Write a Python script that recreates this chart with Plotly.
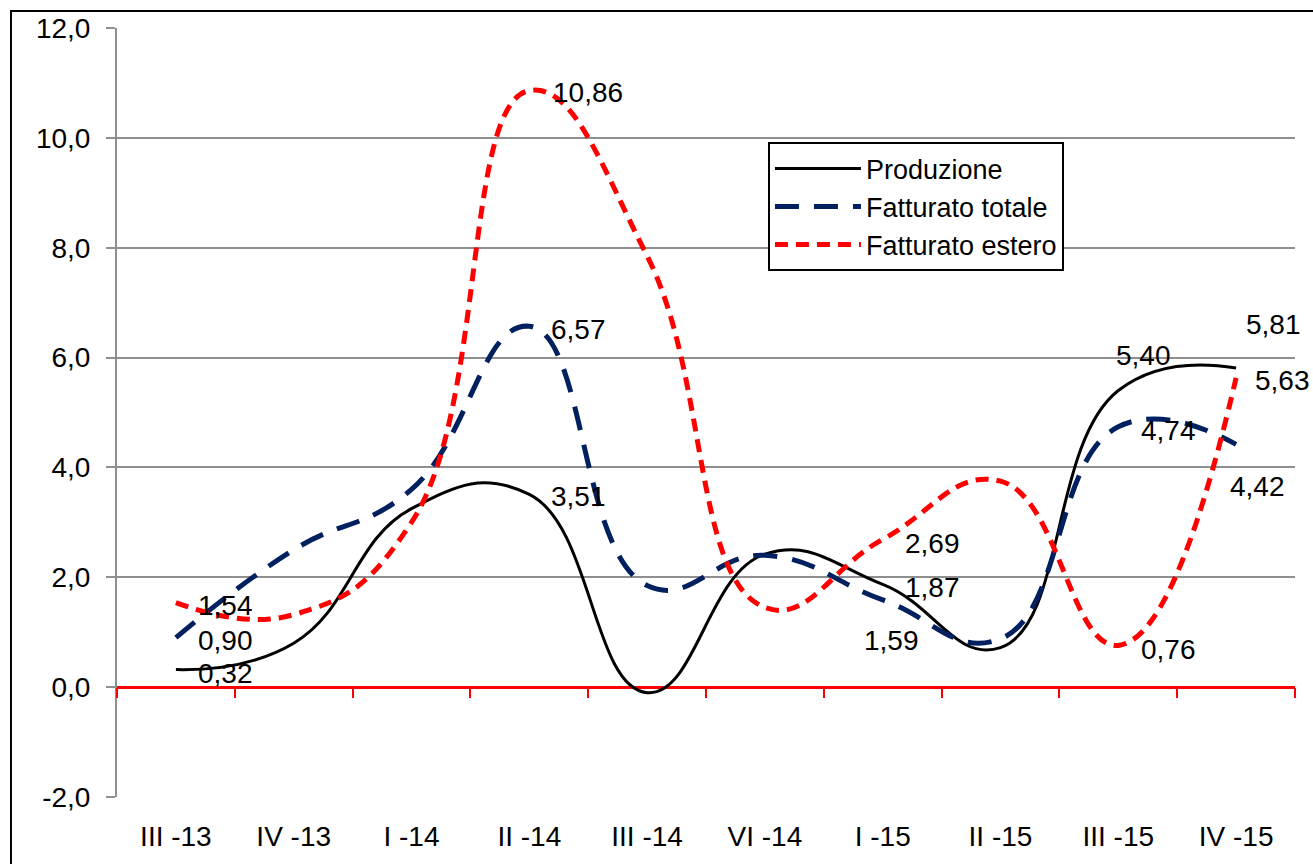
import plotly.graph_objects as go

categories = ["III -13", "IV -13", "I -14", "II -14", "III -14",
              "VI -14", "I -15", "II -15", "III -15", "IV -15"]

produzione = [0.32, 0.80, 3.25, 3.51, -0.10, 2.42, 1.87, 0.72, 5.40, 5.81]
fatturato_totale = [0.90, 2.50, 3.60, 6.57, 1.85, 2.40, 1.59, 0.88, 4.74, 4.42]
fatturato_estero = [1.54, 1.32, 3.00, 10.86, 7.85, 1.45, 2.69, 3.75, 0.76, 5.63]

series_names = ["Produzione", "Fatturato totale", "Fatturato estero"]
y_ticks = [-2, 0, 2, 4, 6, 8, 10, 12]
y_tick_text = [f"{v:.1f}".replace(".", ",") for v in y_ticks]

# indices of categories carrying data labels
label_idx = [0, 3, 6, 8, 9]

# label offsets (style): (xshift, yshift) in px, text anchored left/middle
label_offsets = {
    "Produzione": {0: (20, -4), 3: (20, -2), 6: (20, -3), 8: (-4, 35), 9: (8, 44)},
    "Fatturato totale": {0: (20, -3), 3: (20, -3), 6: (-21, -41), 8: (21, -4), 9: (-8, -42)},
    "Fatturato estero": {0: (20, -3), 3: (22, -2), 6: (20, -4), 8: (21, -4), 9: (17, -3)},
}

styles = {
    "Produzione": dict(color="#000000", width=3, dash="solid"),
    "Fatturato totale": dict(color="#002060", width=5, dash="24px,15px"),
    "Fatturato estero": dict(color="#ff0000", width=5, dash="13px,8px"),
}

data = {
    "Produzione": produzione,
    "Fatturato totale": fatturato_totale,
    "Fatturato estero": fatturato_estero,
}

FONT = "Liberation Sans, Arial, sans-serif"
FS = 28

fig = go.Figure()
for name in series_names:
    fig.add_trace(go.Scatter(
        x=categories, y=data[name], name=name, mode="lines",
        line=dict(shape="spline", smoothing=1.3, **styles[name]),
        hoverinfo="x+y+name",
    ))

# helper trace so the zero-line tick axis (x2) gets drawn
fig.add_trace(go.Scatter(x=[None], y=[None], xaxis="x2", yaxis="y",
                         showlegend=False, hoverinfo="skip"))

annotations = []
for name in series_names:
    vals = data[name]
    for i in label_idx:
        dx, dy = label_offsets[name][i]
        annotations.append(dict(
            x=categories[i], y=vals[i], xref="x", yref="y",
            text=f"{vals[i]:.2f}".replace(".", ","),
            showarrow=False, xanchor="left", yanchor="middle",
            xshift=dx, yshift=dy,
            font=dict(family=FONT, size=FS, color="#000000"),
        ))

n = len(categories)
fig.update_layout(
    width=1313, height=864,
    margin=dict(l=117, r=18, t=28, b=63),
    paper_bgcolor="white", plot_bgcolor="white",
    separators=", ",
    font=dict(family=FONT, size=FS, color="#000000"),
    showlegend=True,
    legend=dict(
        x=0.5526, y=0.8513, xanchor="left", yanchor="top",
        bgcolor="white", bordercolor="#000000", borderwidth=2,
        font=dict(family=FONT, size=27, color="#000000"),
        itemwidth=86,
        tracegroupgap=0,
    ),
    xaxis=dict(
        type="category", range=[-0.5, n - 0.5],
        showgrid=False, zeroline=False, showline=False,
        ticks="outside", ticklen=14, tickcolor="rgba(0,0,0,0)",
        tickfont=dict(family=FONT, size=FS, color="#000000"),
    ),
    xaxis2=dict(
        overlaying="x", anchor="free", position=2 / 14,
        range=[-0.5, n - 0.5], showgrid=False, zeroline=False, showline=False,
        tickmode="array", tickvals=[i - 0.5 for i in range(n + 1)],
        ticks="outside", ticklen=10, tickwidth=2, tickcolor="#ff0000",
        showticklabels=False,
    ),
    yaxis=dict(
        range=[-2, 12], tickmode="array", tickvals=y_ticks, ticktext=y_tick_text,
        showgrid=True, gridcolor="#8f8f8f", gridwidth=2,
        zeroline=True, zerolinecolor="#ff0000", zerolinewidth=3,
        showline=True, linecolor="#8f8f8f", linewidth=2,
        ticks="outside", ticklen=9, tickcolor="#8f8f8f", tickwidth=2,
        ticklabelstandoff=10,
        tickfont=dict(family=FONT, size=FS, color="#000000"),
    ),
    annotations=annotations,
    shapes=[dict(
        type="rect", xref="paper", yref="paper",
        x0=-0.09, x1=1.05, y0=-0.2, y1=1.022,
        line=dict(color="#000000", width=2), fillcolor="rgba(0,0,0,0)",
        layer="below",
    )],
)

fig.write_html(
    "out.html",
    config={"displayModeBar": False},
    post_script="document.body.style.margin='0';document.body.style.overflow='hidden';",
)
